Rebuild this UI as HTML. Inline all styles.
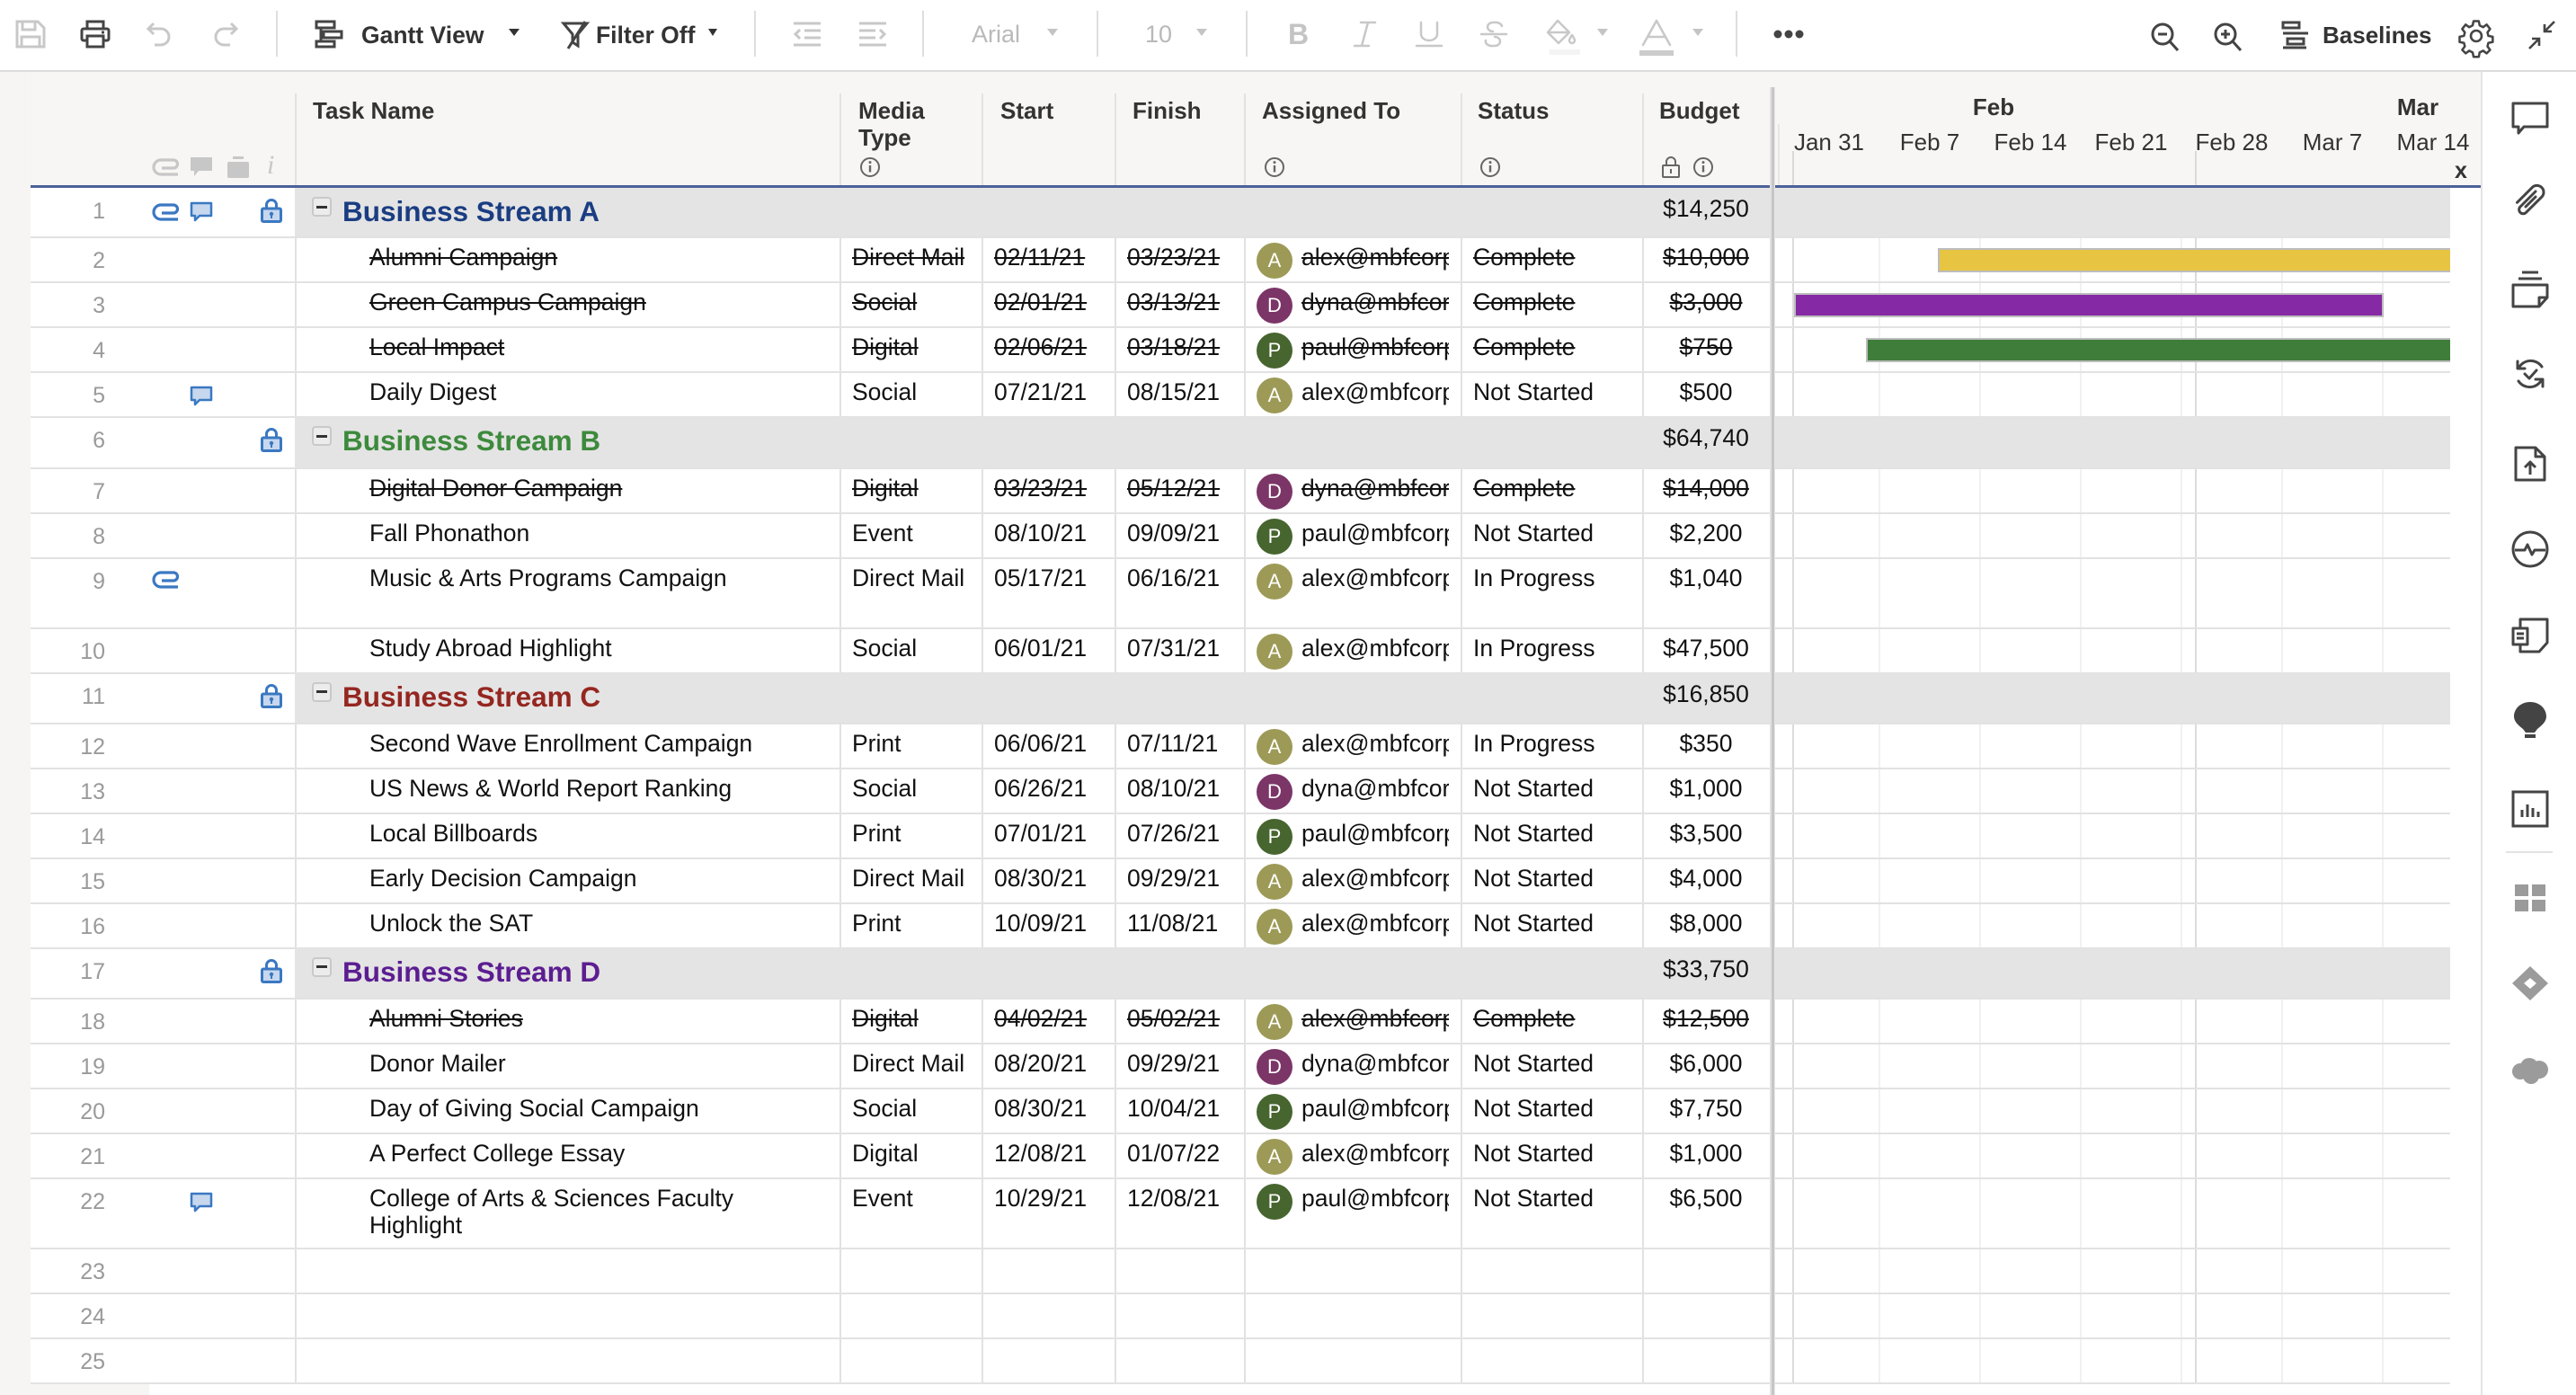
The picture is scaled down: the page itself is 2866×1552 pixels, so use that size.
<!DOCTYPE html>
<html><head><meta charset="utf-8">
<style>
*{margin:0;padding:0;box-sizing:border-box}
html,body{width:2866px;height:1552px;overflow:hidden;background:#fff;font-family:"Liberation Sans",Arial,sans-serif;color:#111}
.a{position:absolute}
.ic{position:absolute;overflow:visible}
.dv{position:absolute;top:12px;width:2px;height:51px;background:#dedede}
.tri{position:absolute;width:0;height:0;border-left:6px solid transparent;border-right:6px solid transparent;border-top:8px solid #333}
.tri.g{border-top-color:#c4c4c4}
.tb{position:absolute;top:23.5px;font-size:26.5px;line-height:30px;font-weight:bold;color:#333;white-space:nowrap}
.tg2{position:absolute;top:23px;font-size:27px;line-height:30px;color:#b9b9b9;white-space:nowrap}
.hd{position:absolute;top:108px;font-size:26px;line-height:30px;font-weight:bold;color:#333;white-space:nowrap}
.gh{position:absolute;font-size:26px;line-height:30px;color:#333;white-space:nowrap;text-align:center}
.vl{position:absolute;width:2px;background:#e2e2e2}
.row{position:absolute;left:0;width:2726px}
.bl{position:absolute;left:34px;right:0;bottom:-1px;height:2px;background:#e2e2e2}
.band{position:absolute;left:328px;right:0;top:0;bottom:1px;background:#e4e4e4}
.n{position:absolute;left:34px;width:83px;text-align:right;top:11px;font-size:25px;line-height:30px;color:#9a9a9a}
.c{position:absolute;top:7px;font-size:26.5px;line-height:30px;white-space:nowrap;color:#111}
.tn{left:411px}.mt{left:948px}.st{left:1106px}.fi{left:1254px}
.em{left:1448px;width:164px;overflow:hidden}
.ss{left:1639px}
.bu{left:1827px;width:142px;text-align:center}
.x{text-decoration:line-through}
.av{position:absolute;left:1398px;top:6px;width:40px;height:40px;border-radius:50%;color:#fff;font-size:22px;line-height:40px;text-align:center}
.gA{background:#9c9a56}.gD{background:#7b3567}.gP{background:#47652f}
.tg{position:absolute;left:347px;top:10px;width:22px;height:22px;border:2px solid #c9c9c9;border-radius:4px;background:#ececec}
.tg::after{content:"";position:absolute;left:3px;top:7.5px;width:12px;height:3px;background:#333}
.gn{position:absolute;left:381px;top:8px;font-size:31.5px;font-weight:bold;line-height:36px;white-space:nowrap}
.bar{position:absolute;height:27px;border:2px solid #bdbdbd}
</style></head><body>

<!-- TOOLBAR -->
<div class="a" style="left:0;top:0;width:2866px;height:78px;background:#fff"></div>
<div class="a" style="left:0;top:78px;width:2866px;height:2px;background:#dcdcdc"></div>

<svg class="ic" style="left:17px;top:22px" width="34" height="32" viewBox="0 0 34 32" fill="none" stroke="#c8c8c8" stroke-width="3"><path d="M2 2h23l7 7v21H2z"/><path d="M8 2v9h14V2"/><path d="M7 30V19h20v11"/></svg>
<svg class="ic" style="left:89px;top:22px" width="34" height="32" viewBox="0 0 34 32" fill="none" stroke="#444" stroke-width="3"><path d="M8 10V2h18v8"/><rect x="2" y="10" width="30" height="13" rx="2"/><rect x="8" y="18" width="18" height="12" fill="#fff"/><path d="M24 14h3"/></svg>
<svg class="ic" style="left:161px;top:23px" width="34" height="32" viewBox="0 0 34 32" fill="none" stroke="#c8c8c8" stroke-width="3"><path d="M4 9h14a9 9 0 0 1 0 18h-7"/><path d="M10 3L4 9l6 6"/></svg>
<svg class="ic" style="left:233px;top:23px" width="34" height="32" viewBox="0 0 34 32" fill="none" stroke="#c8c8c8" stroke-width="3"><path d="M30 9H16a9 9 0 0 0 0 18h7"/><path d="M24 3l6 6-6 6"/></svg>
<div class="dv" style="left:307px"></div>
<svg class="ic" style="left:349px;top:22px" width="34" height="32" viewBox="0 0 34 32" fill="none" stroke="#444" stroke-width="3"><rect x="3" y="2" width="20" height="7"/><path d="M8 9v15"/><rect x="11" y="13" width="20" height="7"/><rect x="3" y="24" width="20" height="6"/></svg>
<div class="tb" style="left:402px">Gantt View</div>
<div class="tri" style="left:566px;top:32px"></div>
<svg class="ic" style="left:624px;top:23px" width="32" height="32" viewBox="0 0 32 32" fill="none" stroke="#444" stroke-width="3"><path d="M3 3h26L19 15v13l-6-4V15z"/><path d="M27 1L8 31"/></svg>
<div class="tb" style="left:663px">Filter Off</div>
<div class="tri" style="left:788px;top:32px;border-left-width:5px;border-right-width:5px"></div>
<div class="dv" style="left:839px"></div>
<svg class="ic" style="left:881px;top:24px" width="34" height="28" viewBox="0 0 34 28" fill="none" stroke="#c8c8c8" stroke-width="3"><path d="M2 2h30M14 10h18M14 18h18M2 26h30M9 9l-5 5 5 5"/></svg>
<svg class="ic" style="left:954px;top:24px" width="34" height="28" viewBox="0 0 34 28" fill="none" stroke="#c8c8c8" stroke-width="3"><path d="M2 2h30M2 10h18M2 18h18M2 26h30M25 9l5 5-5 5"/></svg>
<div class="dv" style="left:1026px"></div>
<div class="tg2" style="left:1081px">Arial</div>
<div class="tri g" style="left:1165px;top:32px"></div>
<div class="dv" style="left:1220px"></div>
<div class="tg2" style="left:1274px">10</div>
<div class="tri g" style="left:1331px;top:32px"></div>
<div class="dv" style="left:1386px"></div>
<div class="a" style="left:1433px;top:20px;font-size:32px;line-height:36px;font-weight:bold;color:#c4c4c4">B</div>
<svg class="ic" style="left:1505px;top:23px" width="28" height="30" viewBox="0 0 28 30" fill="none" stroke="#c8c8c8" stroke-width="2.5" stroke-linecap="round"><path d="M9 2h16M2 28h16M17 2L10 28"/></svg>
<svg class="ic" style="left:1575px;top:23px" width="30" height="30" viewBox="0 0 30 30" fill="none" stroke="#c8c8c8" stroke-width="2.5" stroke-linecap="round"><path d="M6 2v13a9 7 0 0 0 18 0V2"/><path d="M1 28h28"/></svg>
<svg class="ic" style="left:1647px;top:23px" width="30" height="30" viewBox="0 0 30 30" fill="none" stroke="#c8c8c8" stroke-width="2.5" stroke-linecap="round"><path d="M24 6a7 5 0 0 0-8-4h-2a6 5 0 0 0 0 10"/><path d="M6 22a7 5 0 0 0 8 6h2a6 5 0 0 0 0-10"/><path d="M1 15h28"/></svg>
<svg class="ic" style="left:1719px;top:21px" width="36" height="32" viewBox="0 0 36 32" fill="none" stroke="#c8c8c8" stroke-width="2.5" stroke-linejoin="round"><path d="M14 2L3 15l12 12 12-12z"/><path d="M4 15h22"/><path d="M30 18c-2 3-3 5-3 6a3 3 0 0 0 6 0c0-1-1-3-3-6z"/></svg>
<div class="a" style="left:1724px;top:55px;width:34px;height:6px;background:#f4f4f4"></div>
<div class="tri g" style="left:1777px;top:32px"></div>
<svg class="ic" style="left:1824px;top:21px" width="38" height="32" viewBox="0 0 38 32" fill="none" stroke="#c8c8c8" stroke-width="2.5" stroke-linecap="round" stroke-linejoin="round"><path d="M4 29L19 2l15 27M9 20h20"/></svg>
<div class="a" style="left:1824px;top:56px;width:38px;height:6px;background:#cccccc"></div>
<div class="tri g" style="left:1883px;top:32px"></div>
<div class="dv" style="left:1931px"></div>
<svg class="ic" style="left:1973px;top:33px" width="36" height="10" viewBox="0 0 36 10" fill="#444"><circle cx="5" cy="5" r="4.5"/><circle cx="17" cy="5" r="4.5"/><circle cx="29" cy="5" r="4.5"/></svg>

<svg class="ic" style="left:2393px;top:25px" width="36" height="32" viewBox="0 0 36 32" fill="none" stroke="#444" stroke-width="3"><circle cx="13" cy="13" r="11"/><path d="M21 21l9 10M8 13h10"/></svg>
<svg class="ic" style="left:2463px;top:25px" width="36" height="32" viewBox="0 0 36 32" fill="none" stroke="#444" stroke-width="3"><circle cx="13" cy="13" r="11"/><path d="M21 21l9 10M8 13h10M13 8v10"/></svg>
<svg class="ic" style="left:2537px;top:23px" width="34" height="32" viewBox="0 0 34 32" fill="none" stroke="#444" stroke-width="3"><rect x="3" y="2" width="18" height="6"/><path d="M3 14h28"/><rect x="8" y="20" width="18" height="6"/><path d="M3 30h26"/></svg>
<div class="tb" style="left:2584px;font-size:26px">Baselines</div>
<svg class="ic" style="left:2736px;top:22px" width="38" height="36" viewBox="0 0 38 36" fill="none" stroke="#444" stroke-width="2.6" stroke-linejoin="round"><path d="M16 2h6l1 5 4 2 4-3 4 5-3 4 1 4 5 1v6l-5 1-1 4 3 4-4 4-4-3-4 2-1 5h-6l-1-5-4-2-4 3-4-4 3-4-1-4-5-1v-6l5-1 1-4-3-4 4-5 4 3 4-2z" transform="scale(0.97) translate(0.5,-0.5)"/><circle cx="19" cy="18" r="6"/></svg>
<svg class="ic" style="left:2811px;top:22px" width="34" height="34" viewBox="0 0 34 34" fill="none" stroke="#444" stroke-width="2.6"><path d="M31 2L20 13M20 5v8h8"/><path d="M3 32l11-11M6 21h8v8"/></svg>

<!-- HEADER BACKGROUND -->
<div class="a" style="left:0;top:80px;width:2760px;height:126px;background:#f7f6f4"></div>
<div class="a" style="left:0;top:80px;width:34px;height:1472px;background:#f6f5f3"></div>
<div class="a" style="left:34px;top:1540px;width:132px;height:12px;background:#f6f5f3"></div>

<!-- header column lines -->
<div class="vl" style="left:328px;top:104px;height:102px"></div>
<div class="vl" style="left:934px;top:104px;height:102px"></div>
<div class="vl" style="left:1092px;top:104px;height:102px"></div>
<div class="vl" style="left:1240px;top:104px;height:102px"></div>
<div class="vl" style="left:1384px;top:104px;height:102px"></div>
<div class="vl" style="left:1625px;top:104px;height:102px"></div>
<div class="vl" style="left:1827px;top:104px;height:102px"></div>
<div class="vl" style="left:1978px;top:138px;height:68px;background:#e6e6e6"></div>
<div class="vl" style="left:1994px;top:168px;height:38px;background:#dadada"></div>
<div class="vl" style="left:2442px;top:168px;height:38px;background:#dadada"></div>

<!-- header left icons -->
<svg class="ic" style="left:170px;top:176px" width="30" height="20" viewBox="0 0 30 20" fill="none" stroke="#c7c7c7" stroke-width="3.2"><path d="M28 18H9a7.5 7.5 0 0 1 0-16h14a4.5 4.5 0 0 1 0 9H10"/></svg>
<svg class="ic" style="left:210px;top:173px" width="28" height="26" viewBox="0 0 28 26"><path d="M2 2h24v15H11l-5 6v-6H2z" fill="#c7c7c7"/></svg>
<svg class="ic" style="left:252px;top:173px" width="26" height="26" viewBox="0 0 26 26"><rect x="7" y="1" width="12" height="3" fill="#c7c7c7"/><rect x="1" y="7" width="24" height="18" rx="2" fill="#c7c7c7"/></svg>
<div class="a" style="left:297px;top:167px;font-family:'Liberation Serif',serif;font-style:italic;font-size:30px;line-height:34px;color:#c7c7c7">i</div>

<!-- header texts -->
<div class="hd" style="left:348px">Task Name</div>
<div class="hd" style="left:955px">Media<br>Type</div>
<div class="hd" style="left:1113px">Start</div>
<div class="hd" style="left:1260px">Finish</div>
<div class="hd" style="left:1404px">Assigned To</div>
<div class="hd" style="left:1644px">Status</div>
<div class="hd" style="left:1846px">Budget</div>

<svg class="ic" style="left:956px;top:174px" width="24" height="24" viewBox="0 0 24 24"><circle cx="12" cy="12" r="10" fill="none" stroke="#666" stroke-width="2"/><path d="M12 10v7.5" stroke="#666" stroke-width="2.4"/><circle cx="12" cy="6.6" r="1.5" fill="#666"/></svg>
<svg class="ic" style="left:1406px;top:174px" width="24" height="24" viewBox="0 0 24 24"><circle cx="12" cy="12" r="10" fill="none" stroke="#666" stroke-width="2"/><path d="M12 10v7.5" stroke="#666" stroke-width="2.4"/><circle cx="12" cy="6.6" r="1.5" fill="#666"/></svg>
<svg class="ic" style="left:1646px;top:174px" width="24" height="24" viewBox="0 0 24 24"><circle cx="12" cy="12" r="10" fill="none" stroke="#666" stroke-width="2"/><path d="M12 10v7.5" stroke="#666" stroke-width="2.4"/><circle cx="12" cy="6.6" r="1.5" fill="#666"/></svg>
<svg class="ic" style="left:1883px;top:174px" width="24" height="24" viewBox="0 0 24 24"><circle cx="12" cy="12" r="10" fill="none" stroke="#666" stroke-width="2"/><path d="M12 10v7.5" stroke="#666" stroke-width="2.4"/><circle cx="12" cy="6.6" r="1.5" fill="#666"/></svg>
<svg class="ic" style="left:1848px;top:173px" width="22" height="26" viewBox="0 0 22 26" fill="none" stroke="#666" stroke-width="2"><path d="M6 11V7a5 5 0 0 1 10 0v4"/><rect x="2" y="11" width="18" height="13" rx="1"/><path d="M11 15v5"/></svg>

<!-- gantt header -->
<div class="gh" style="left:2168px;top:104px;width:100px;font-weight:bold">Feb</div>
<div class="gh" style="left:2640px;top:104px;width:100px;font-weight:bold">Mar</div>
<div class="gh" style="left:1979px;top:143px;width:112px">Jan 31</div>
<div class="gh" style="left:2091px;top:143px;width:112px">Feb 7</div>
<div class="gh" style="left:2203px;top:143px;width:112px">Feb 14</div>
<div class="gh" style="left:2315px;top:143px;width:112px">Feb 21</div>
<div class="gh" style="left:2427px;top:143px;width:112px">Feb 28</div>
<div class="gh" style="left:2539px;top:143px;width:112px">Mar 7</div>
<div class="gh" style="left:2651px;top:143px;width:112px">Mar 14</div>
<div class="a" style="left:2731px;top:176px;font-size:25px;line-height:28px;font-weight:bold;color:#333">x</div>

<!-- blue line -->
<div class="a" style="left:34px;top:206px;width:2726px;height:3px;background:#4d6199"></div>

<!-- global grid lines -->
<div class="vl" style="left:328px;top:209px;height:1330px"></div>
<div class="vl" style="left:934px;top:209px;height:1330px"></div>
<div class="vl" style="left:1092px;top:209px;height:1330px"></div>
<div class="vl" style="left:1240px;top:209px;height:1330px"></div>
<div class="vl" style="left:1384px;top:209px;height:1330px"></div>
<div class="vl" style="left:1625px;top:209px;height:1330px"></div>
<div class="vl" style="left:1827px;top:209px;height:1330px"></div>
<div class="vl" style="left:2090px;top:209px;height:1330px;background:#f1f1f1"></div>
<div class="vl" style="left:2202px;top:209px;height:1330px;background:#f1f1f1"></div>
<div class="vl" style="left:2314px;top:209px;height:1330px;background:#f1f1f1"></div>
<div class="vl" style="left:2426px;top:209px;height:1330px;background:#f1f1f1"></div>
<div class="vl" style="left:2538px;top:209px;height:1330px;background:#f1f1f1"></div>
<div class="vl" style="left:2650px;top:209px;height:1330px;background:#f1f1f1"></div>
<div class="vl" style="left:1994px;top:209px;height:1330px;background:#dcdcdc"></div>
<div class="vl" style="left:2442px;top:209px;height:1330px;background:#dcdcdc"></div>

<!-- ROWS -->
<div class="row" style="top:209px;height:55.3px"><div class="band"></div><div class="bl"></div>
<div class="n">1</div>
<svg class="ic" style="left:170px;top:17px" width="30" height="20" viewBox="0 0 30 20" fill="none" stroke="#3a78c2" stroke-width="3.2"><path d="M28 18H9a7.5 7.5 0 0 1 0-16h14a4.5 4.5 0 0 1 0 9H10"/></svg>
<svg class="ic" style="left:211px;top:15px" width="26" height="25" viewBox="0 0 26 25"><path d="M2 2h22v14H11l-5 5v-5H2z" fill="#c6d7ee" stroke="#3a78c2" stroke-width="2.5" stroke-linejoin="round"/></svg>
<svg class="ic" style="left:290px;top:11px" width="24" height="28" viewBox="0 0 24 28"><path d="M6.5 12V8a5.5 5.5 0 0 1 11 0v4" fill="none" stroke="#3a78c2" stroke-width="3"/><rect x="1.5" y="12" width="21" height="14.5" rx="1.5" fill="#c6d7ee" stroke="#3a78c2" stroke-width="3"/><circle cx="12" cy="18" r="2.2" fill="#3a78c2"/><rect x="11" y="18" width="2" height="5" fill="#3a78c2"/></svg>
<div class="tg"></div><div class="gn" style="color:#1a3d82">Business Stream A</div>
<div class="c bu" style="top:8px">$14,250</div></div>

<div class="row" style="top:264.3px;height:50px"><div class="bl"></div><div class="n">2</div>
<div class="c tn x">Alumni Campaign</div><div class="c mt x">Direct Mail</div><div class="c st x">02/11/21</div><div class="c fi x">03/23/21</div><div class="av gA">A</div><div class="c em x">alex@mbfcorp.com</div><div class="c ss x">Complete</div><div class="c bu x">$10,000</div></div>

<div class="row" style="top:314.3px;height:50px"><div class="bl"></div><div class="n">3</div>
<div class="c tn x">Green Campus Campaign</div><div class="c mt x">Social</div><div class="c st x">02/01/21</div><div class="c fi x">03/13/21</div><div class="av gD">D</div><div class="c em x">dyna@mbfcorp.com</div><div class="c ss x">Complete</div><div class="c bu x">$3,000</div></div>

<div class="row" style="top:364.3px;height:50px"><div class="bl"></div><div class="n">4</div>
<div class="c tn x">Local Impact</div><div class="c mt x">Digital</div><div class="c st x">02/06/21</div><div class="c fi x">03/18/21</div><div class="av gP">P</div><div class="c em x">paul@mbfcorp.com</div><div class="c ss x">Complete</div><div class="c bu x">$750</div></div>

<div class="row" style="top:414.3px;height:50px"><div class="bl"></div><div class="n">5</div>
<svg class="ic" style="left:211px;top:15px" width="26" height="25" viewBox="0 0 26 25"><path d="M2 2h22v14H11l-5 5v-5H2z" fill="#c6d7ee" stroke="#3a78c2" stroke-width="2.5" stroke-linejoin="round"/></svg>
<div class="c tn">Daily Digest</div><div class="c mt">Social</div><div class="c st">07/21/21</div><div class="c fi">08/15/21</div><div class="av gA">A</div><div class="c em">alex@mbfcorp.com</div><div class="c ss">Not Started</div><div class="c bu">$500</div></div>

<div class="row" style="top:464.3px;height:56.3px"><div class="band"></div><div class="bl"></div><div class="n">6</div>
<svg class="ic" style="left:290px;top:11px" width="24" height="28" viewBox="0 0 24 28"><path d="M6.5 12V8a5.5 5.5 0 0 1 11 0v4" fill="none" stroke="#3a78c2" stroke-width="3"/><rect x="1.5" y="12" width="21" height="14.5" rx="1.5" fill="#c6d7ee" stroke="#3a78c2" stroke-width="3"/><circle cx="12" cy="18" r="2.2" fill="#3a78c2"/><rect x="11" y="18" width="2" height="5" fill="#3a78c2"/></svg>
<div class="tg"></div><div class="gn" style="color:#3d8a3c">Business Stream B</div>
<div class="c bu" style="top:8px">$64,740</div></div>

<div class="row" style="top:520.6px;height:50px"><div class="bl"></div><div class="n">7</div>
<div class="c tn x">Digital Donor Campaign</div><div class="c mt x">Digital</div><div class="c st x">03/23/21</div><div class="c fi x">05/12/21</div><div class="av gD">D</div><div class="c em x">dyna@mbfcorp.com</div><div class="c ss x">Complete</div><div class="c bu x">$14,000</div></div>

<div class="row" style="top:570.6px;height:50px"><div class="bl"></div><div class="n">8</div>
<div class="c tn">Fall Phonathon</div><div class="c mt">Event</div><div class="c st">08/10/21</div><div class="c fi">09/09/21</div><div class="av gP">P</div><div class="c em">paul@mbfcorp.com</div><div class="c ss">Not Started</div><div class="c bu">$2,200</div></div>

<div class="row" style="top:620.6px;height:78px"><div class="bl"></div><div class="n">9</div>
<svg class="ic" style="left:170px;top:14px" width="30" height="20" viewBox="0 0 30 20" fill="none" stroke="#3a78c2" stroke-width="3.2"><path d="M28 18H9a7.5 7.5 0 0 1 0-16h14a4.5 4.5 0 0 1 0 9H10"/></svg>
<div class="c tn">Music &amp; Arts Programs Campaign</div><div class="c mt">Direct Mail</div><div class="c st">05/17/21</div><div class="c fi">06/16/21</div><div class="av gA">A</div><div class="c em">alex@mbfcorp.com</div><div class="c ss">In Progress</div><div class="c bu">$1,040</div></div>

<div class="row" style="top:698.6px;height:50px"><div class="bl"></div><div class="n">10</div>
<div class="c tn">Study Abroad Highlight</div><div class="c mt">Social</div><div class="c st">06/01/21</div><div class="c fi">07/31/21</div><div class="av gA">A</div><div class="c em">alex@mbfcorp.com</div><div class="c ss">In Progress</div><div class="c bu">$47,500</div></div>

<div class="row" style="top:748.6px;height:56.3px"><div class="band"></div><div class="bl"></div><div class="n">11</div>
<svg class="ic" style="left:290px;top:11px" width="24" height="28" viewBox="0 0 24 28"><path d="M6.5 12V8a5.5 5.5 0 0 1 11 0v4" fill="none" stroke="#3a78c2" stroke-width="3"/><rect x="1.5" y="12" width="21" height="14.5" rx="1.5" fill="#c6d7ee" stroke="#3a78c2" stroke-width="3"/><circle cx="12" cy="18" r="2.2" fill="#3a78c2"/><rect x="11" y="18" width="2" height="5" fill="#3a78c2"/></svg>
<div class="tg"></div><div class="gn" style="color:#952620">Business Stream C</div>
<div class="c bu" style="top:8px">$16,850</div></div>

<div class="row" style="top:804.9px;height:50px"><div class="bl"></div><div class="n">12</div>
<div class="c tn">Second Wave Enrollment Campaign</div><div class="c mt">Print</div><div class="c st">06/06/21</div><div class="c fi">07/11/21</div><div class="av gA">A</div><div class="c em">alex@mbfcorp.com</div><div class="c ss">In Progress</div><div class="c bu">$350</div></div>

<div class="row" style="top:854.9px;height:50px"><div class="bl"></div><div class="n">13</div>
<div class="c tn">US News &amp; World Report Ranking</div><div class="c mt">Social</div><div class="c st">06/26/21</div><div class="c fi">08/10/21</div><div class="av gD">D</div><div class="c em">dyna@mbfcorp.com</div><div class="c ss">Not Started</div><div class="c bu">$1,000</div></div>

<div class="row" style="top:904.9px;height:50px"><div class="bl"></div><div class="n">14</div>
<div class="c tn">Local Billboards</div><div class="c mt">Print</div><div class="c st">07/01/21</div><div class="c fi">07/26/21</div><div class="av gP">P</div><div class="c em">paul@mbfcorp.com</div><div class="c ss">Not Started</div><div class="c bu">$3,500</div></div>

<div class="row" style="top:954.9px;height:50px"><div class="bl"></div><div class="n">15</div>
<div class="c tn">Early Decision Campaign</div><div class="c mt">Direct Mail</div><div class="c st">08/30/21</div><div class="c fi">09/29/21</div><div class="av gA">A</div><div class="c em">alex@mbfcorp.com</div><div class="c ss">Not Started</div><div class="c bu">$4,000</div></div>

<div class="row" style="top:1004.9px;height:50px"><div class="bl"></div><div class="n">16</div>
<div class="c tn">Unlock the SAT</div><div class="c mt">Print</div><div class="c st">10/09/21</div><div class="c fi">11/08/21</div><div class="av gA">A</div><div class="c em">alex@mbfcorp.com</div><div class="c ss">Not Started</div><div class="c bu">$8,000</div></div>

<div class="row" style="top:1054.9px;height:56.3px"><div class="band"></div><div class="bl"></div><div class="n">17</div>
<svg class="ic" style="left:290px;top:11px" width="24" height="28" viewBox="0 0 24 28"><path d="M6.5 12V8a5.5 5.5 0 0 1 11 0v4" fill="none" stroke="#3a78c2" stroke-width="3"/><rect x="1.5" y="12" width="21" height="14.5" rx="1.5" fill="#c6d7ee" stroke="#3a78c2" stroke-width="3"/><circle cx="12" cy="18" r="2.2" fill="#3a78c2"/><rect x="11" y="18" width="2" height="5" fill="#3a78c2"/></svg>
<div class="tg"></div><div class="gn" style="color:#5c1d91">Business Stream D</div>
<div class="c bu" style="top:8px">$33,750</div></div>

<div class="row" style="top:1111.2px;height:50px"><div class="bl"></div><div class="n">18</div>
<div class="c tn x">Alumni Stories</div><div class="c mt x">Digital</div><div class="c st x">04/02/21</div><div class="c fi x">05/02/21</div><div class="av gA">A</div><div class="c em x">alex@mbfcorp.com</div><div class="c ss x">Complete</div><div class="c bu x">$12,500</div></div>

<div class="row" style="top:1161.2px;height:50px"><div class="bl"></div><div class="n">19</div>
<div class="c tn">Donor Mailer</div><div class="c mt">Direct Mail</div><div class="c st">08/20/21</div><div class="c fi">09/29/21</div><div class="av gD">D</div><div class="c em">dyna@mbfcorp.com</div><div class="c ss">Not Started</div><div class="c bu">$6,000</div></div>

<div class="row" style="top:1211.2px;height:50px"><div class="bl"></div><div class="n">20</div>
<div class="c tn">Day of Giving Social Campaign</div><div class="c mt">Social</div><div class="c st">08/30/21</div><div class="c fi">10/04/21</div><div class="av gP">P</div><div class="c em">paul@mbfcorp.com</div><div class="c ss">Not Started</div><div class="c bu">$7,750</div></div>

<div class="row" style="top:1261.2px;height:50px"><div class="bl"></div><div class="n">21</div>
<div class="c tn">A Perfect College Essay</div><div class="c mt">Digital</div><div class="c st">12/08/21</div><div class="c fi">01/07/22</div><div class="av gA">A</div><div class="c em">alex@mbfcorp.com</div><div class="c ss">Not Started</div><div class="c bu">$1,000</div></div>

<div class="row" style="top:1311.2px;height:78px"><div class="bl"></div><div class="n">22</div>
<svg class="ic" style="left:211px;top:15px" width="26" height="25" viewBox="0 0 26 25"><path d="M2 2h22v14H11l-5 5v-5H2z" fill="#c6d7ee" stroke="#3a78c2" stroke-width="2.5" stroke-linejoin="round"/></svg>
<div class="c tn">College of Arts &amp; Sciences Faculty<br>Highlight</div><div class="c mt">Event</div><div class="c st">10/29/21</div><div class="c fi">12/08/21</div><div class="av gP">P</div><div class="c em">paul@mbfcorp.com</div><div class="c ss">Not Started</div><div class="c bu">$6,500</div></div>

<div class="row" style="top:1389.2px;height:50px"><div class="bl"></div><div class="n">23</div></div>
<div class="row" style="top:1439.2px;height:50px"><div class="bl"></div><div class="n">24</div></div>
<div class="row" style="top:1489.2px;height:50px"><div class="bl"></div><div class="n">25</div></div>

<!-- GANTT BARS -->
<div class="a" style="left:1975px;top:209px;width:751px;height:1330px;overflow:hidden">
<div class="bar" style="left:181px;top:67px;width:700px;background:#e7c542"></div>
<div class="bar" style="left:21px;top:117px;width:656px;background:#8529a5"></div>
<div class="bar" style="left:101px;top:167px;width:700px;background:#3f7d3b"></div>
</div>

<!-- gantt divider -->
<div class="a" style="left:1969px;top:97px;width:6px;height:1455px;background:linear-gradient(to right,#e2e2e2 0,#e2e2e2 2px,#c6c6c6 2px,#c6c6c6 5px,#e6e6e6 5px)"></div>

<!-- SIDEBAR -->
<div class="a" style="left:2760px;top:80px;width:106px;height:1472px;background:#fff;border-left:2px solid #e4e4e4"></div>
<svg class="ic" style="left:2794px;top:113px" width="42" height="38" viewBox="0 0 42 38" fill="none" stroke="#444" stroke-width="3" stroke-linejoin="round"><path d="M2 2h38v26H14l-6 7v-7H2z"/></svg>
<svg class="ic" style="left:2795px;top:205px" width="40" height="40" viewBox="0 0 40 40" fill="none" stroke="#444" stroke-width="3" stroke-linecap="round"><path d="M26 8L9 25a4.5 4.5 0 0 0 6.4 6.4L33 14a7.5 7.5 0 0 0-10.6-10.6L5.5 20.3"/><path d="M26 14L15 25"/></svg>
<svg class="ic" style="left:2794px;top:300px" width="42" height="44" viewBox="0 0 42 44" fill="none" stroke="#444" stroke-width="3" stroke-linejoin="round"><path d="M12 3h18M8 10h26"/><path d="M2 17h38v14l-9 10H2z"/><path d="M31 41v-10h9"/></svg>
<svg class="ic" style="left:2795px;top:396px" width="40" height="40" viewBox="0 0 40 40" fill="none" stroke="#444" stroke-width="3" stroke-linecap="round" stroke-linejoin="round"><path d="M33 12A15 15 0 0 0 7 14M7 28a15 15 0 0 0 26-2"/><path d="M6 6v8h8M34 34v-8h-8"/><path d="M14 20l5 5 8-9"/></svg>
<svg class="ic" style="left:2797px;top:496px" width="36" height="40" viewBox="0 0 36 40" fill="none" stroke="#444" stroke-width="3" stroke-linejoin="round"><path d="M2 2h22l10 10v26H2z"/><path d="M24 2v10h10"/><path d="M18 32V18M12 24l6-6 6 6"/></svg>
<svg class="ic" style="left:2794px;top:590px" width="42" height="42" viewBox="0 0 42 42" fill="none" stroke="#444" stroke-width="3" stroke-linejoin="round"><circle cx="21" cy="21" r="19"/><path d="M4 22h11l3-6 5 11 3-5h12"/></svg>
<svg class="ic" style="left:2794px;top:687px" width="42" height="40" viewBox="0 0 42 40" fill="none" stroke="#444" stroke-width="3" stroke-linejoin="round"><path d="M10 2h30v26l-9 10H10z"/><rect x="2" y="12" width="16" height="18" fill="#fff"/><path d="M6 18h8M6 23h8"/></svg>
<svg class="ic" style="left:2795px;top:779px" width="40" height="44" viewBox="0 0 40 44"><path d="M20 2C9 2 2 10 2 18c0 6 5 10 10 14l3 4h10l3-4c5-4 10-8 10-14C38 10 31 2 20 2z" fill="#444"/><rect x="14" y="38" width="12" height="4" fill="#444"/></svg>
<svg class="ic" style="left:2794px;top:879px" width="42" height="42" viewBox="0 0 42 42" fill="none" stroke="#444" stroke-width="3"><rect x="2" y="2" width="38" height="38"/><path d="M12 30v-8M18 30V16M24 30v-10M30 30v-6"/></svg>
<div class="a" style="left:2788px;top:947px;width:52px;height:2px;background:#e2e2e2"></div>
<svg class="ic" style="left:2797px;top:983px" width="36" height="32" viewBox="0 0 36 32" fill="#9b9b9b"><rect x="1" y="1" width="15" height="13"/><rect x="20" y="1" width="15" height="13"/><rect x="1" y="18" width="15" height="13"/><rect x="20" y="18" width="15" height="13"/></svg>
<svg class="ic" style="left:2794px;top:1074px" width="42" height="40" viewBox="0 0 42 40"><path d="M21 1L41 20 21 39 1 20z M21 14l-7 6 7 6 7-6z" fill="#9b9b9b" fill-rule="evenodd"/></svg>
<svg class="ic" style="left:2794px;top:1175px" width="42" height="32" viewBox="0 0 42 32" fill="#9b9b9b"><circle cx="10" cy="17" r="9"/><circle cx="20" cy="12" r="10"/><circle cx="31" cy="15" r="10"/><circle cx="22" cy="22" r="9"/></svg>

</body></html>
